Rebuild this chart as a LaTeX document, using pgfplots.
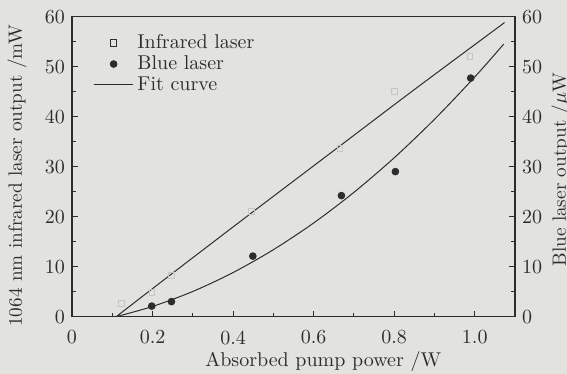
\documentclass[border=0pt]{standalone}
\usepackage{pgfplots}
\pgfplotsset{compat=1.18}
\definecolor{paper}{RGB}{226,226,223}
\definecolor{ink}{RGB}{45,45,45}
\definecolor{faint}{RGB}{198,198,195}
\pgfplotsset{
  legmark/.style={legend image code/.code={\draw[##1] plot coordinates {(0.35cm,0cm)};}},
  legline/.style={legend image code/.code={\draw[##1] (0cm,0cm) -- (0.69cm,0cm);}},
}
\begin{document}
\fontsize{10}{12}\selectfont
\begin{tikzpicture}
\fill[paper] (-36pt,-28.7pt) rectangle (247.5pt,158.3pt);
\begin{axis}[
  name=ax,
  at={(0pt,0pt)}, anchor=south west,
  scale only axis, width=221.5pt, height=150pt,
  xmin=0, xmax=1.1, ymin=0, ymax=60,
  xtick={0,0.2,0.4,0.6,0.8,1.0},
  xticklabels={0,0.2,0.4,0.6,0.8,1.0},
  minor xtick={0.1,0.3,0.5,0.7,0.9},
  ytick={0,10,20,30,40,50,60},
  minor ytick={5,15,25,35,45,55},
  xtick pos=lower, ytick pos=left,
  tick align=inside,
  major tick length=3pt, minor tick length=1.8pt,
  tick style={ink, line width=0.5pt},
  axis line style={ink, line width=0.6pt},
  ticklabel style={font=\fontsize{10}{12}\selectfont, text=ink},
  xticklabel style={yshift=-3.5pt},
  xlabel={Absorbed pump power /W},
  ylabel={1064 nm infrared laser output /mW},
  xlabel style={font=\fontsize{10}{12}\selectfont, text=ink,
    at={(axis description cs:0.567,-0.150)}, anchor=center},
  ylabel style={font=\fontsize{9.6}{11}\selectfont, text=ink,
    at={(axis description cs:-0.124,0.469)}, anchor=center},
  legend style={at={(0.047,0.955)}, anchor=north west, draw=none, fill=none,
    font=\fontsize{10}{12}\selectfont, text=ink, row sep=-2pt,
    inner sep=0pt, cells={anchor=west}},
  legend cell align=left,
]
\addlegendimage{only marks, mark=square, mark size=1.6pt, ink, mark options={line width=0.4pt}, legmark}
\addlegendentry{Infrared laser}
\addlegendimage{only marks, mark=*, mark size=1.7pt, ink, legmark}
\addlegendentry{Blue laser}
\addlegendimage{ink, line width=0.5pt, legline}
\addlegendentry{Fit curve}
% infrared data (faint)
\addplot[forget plot, only marks, mark=square, mark size=1.4pt, faint, mark options={line width=0.35pt}]
  coordinates {(0.123,2.7) (0.198,4.8) (0.247,8.3) (0.446,21) (0.665,33.7) (0.80,45) (0.988,52.1)};
% blue data
\addplot[forget plot, only marks, mark=*, mark size=1.7pt, ink]
  coordinates {(0.198,2.1) (0.247,3.0) (0.449,12.1) (0.669,24.2) (0.803,29) (0.99,47.7)};
% infrared fit curve
\addplot[forget plot, ink, line width=0.5pt, smooth]
  coordinates {(0.11,0) (0.25,8.7) (0.45,21.0) (0.65,33.2) (0.85,45.4) (1.074,58.8)};
% blue fit curve
\addplot[forget plot, ink, line width=0.5pt, smooth]
  coordinates {(0.11,0) (0.2,2.03) (0.3,5.03) (0.4,8.81) (0.5,13.38) (0.6,18.72) (0.7,24.85) (0.8,31.76) (0.9,39.45) (1.0,47.92) (1.072,54.5)};
\end{axis}
\begin{axis}[
  at={(0pt,0pt)}, anchor=south west,
  scale only axis, width=221.5pt, height=150pt,
  xmin=0, xmax=1.1, ymin=0, ymax=60,
  axis x line=none, axis y line*=right,
  ytick={0,10,20,30,40,50,60},
  minor ytick={5,15,25,35,45,55},
  tick align=inside,
  major tick length=3pt, minor tick length=1.8pt,
  tick style={ink, line width=0.5pt},
  axis line style={ink, line width=0.6pt},
  ticklabel style={font=\fontsize{10}{12}\selectfont, text=ink},
  ylabel={Blue laser output /$\mu$W},
  ylabel style={font=\fontsize{9.6}{11}\selectfont, text=ink,
    at={(axis description cs:1.104,0.49)}, anchor=center},
]
\addplot[draw=none] coordinates {(0,0)};
\end{axis}
\pgfresetboundingbox
\useasboundingbox (-36pt,-28.7pt) rectangle (247.5pt,158.3pt);
\end{tikzpicture}
\end{document}
